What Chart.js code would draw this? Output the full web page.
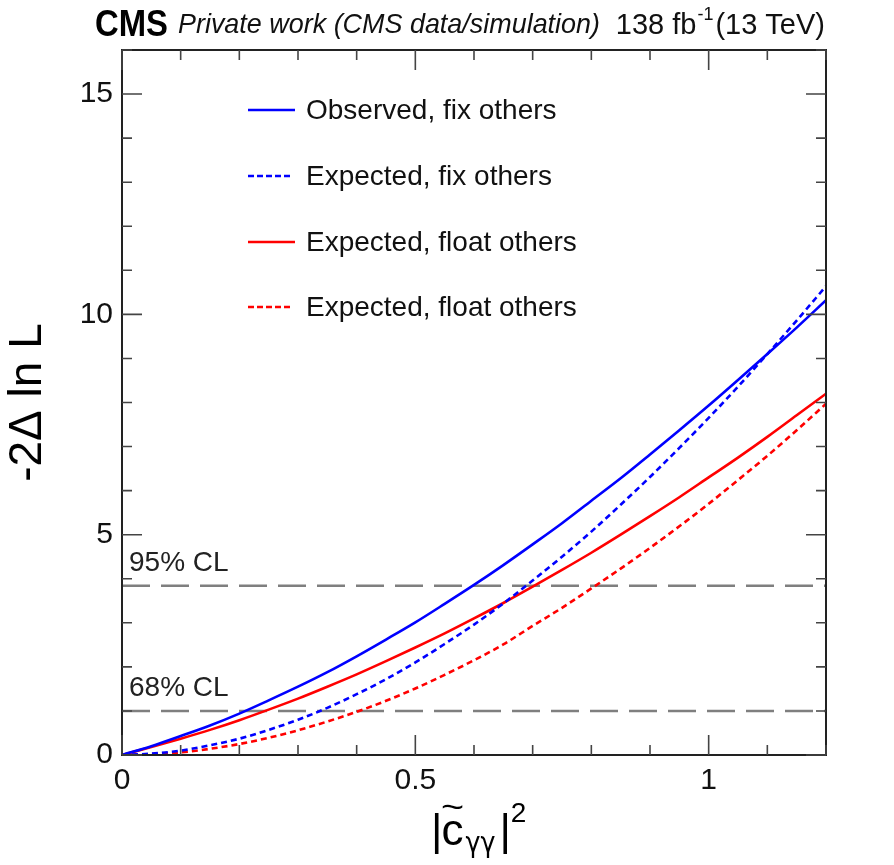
<!DOCTYPE html>
<html>
<head>
<meta charset="utf-8">
<script src="https://cdn.jsdelivr.net/npm/chart.js@4"></script>
<style>
  html, body { margin: 0; padding: 0; background: #fff; }
  #wrap { width: 894px; height: 865px; }
</style>
</head>
<body>
<div id="wrap"><canvas id="nllChart" width="894" height="865"></canvas></div>
<script>
// values
const xValues = [0, 0.05, 0.1, 0.15, 0.2, 0.25, 0.3, 0.35, 0.4, 0.45, 0.5, 0.55, 0.6,
    0.65, 0.7, 0.75, 0.8, 0.85, 0.9, 0.95, 1.0, 1.05, 1.1, 1.15, 1.2];
const observedFix = [0, 0.20, 0.43, 0.67, 0.94, 1.24, 1.55, 1.88, 2.24, 2.62, 3.01, 3.43, 3.86,
    4.31, 4.78, 5.26, 5.77, 6.28, 6.82, 7.37, 7.93, 8.51, 9.10, 9.70, 10.32];
const expectedFix = [0, 0.03, 0.10, 0.22, 0.37, 0.57, 0.80, 1.07, 1.38, 1.72, 2.10, 2.52, 2.96,
    3.44, 3.96, 4.50, 5.07, 5.68, 6.31, 6.97, 7.65, 8.36, 9.10, 9.86, 10.64];
const solidFloat = [0, 0.18, 0.37, 0.57, 0.79, 1.03, 1.28, 1.55, 1.83, 2.13, 2.44, 2.76, 3.10,
    3.45, 3.82, 4.20, 4.59, 5.00, 5.42, 5.85, 6.30, 6.75, 7.22, 7.71, 8.20];
const expectedFloat = [0, 0.02, 0.06, 0.14, 0.25, 0.39, 0.56, 0.76, 0.98, 1.23, 1.51, 1.82, 2.15,
    2.51, 2.93, 3.34, 3.78, 4.23, 4.70, 5.19, 5.70, 6.24, 6.79, 7.37, 7.97];
const seriesLabels = ["Observed, fix others", "Expected, fix others",
    "Expected, float others", "Expected, float others"];
const clLevels = [1, 3.84];
const clLabels = ["68% CL", "95% CL"];
const xMajorTicks = [0, 0.5, 1];
const yMajorTicks = [0, 5, 10, 15];

const X_MAX = 1.2, Y_MAX = 16;
const FONT = "'Liberation Sans', Arial, Helvetica, sans-serif";

function pts(ys){
    return xValues.map((x, i) => ({x: x, y: ys[i]}));
}
function isMajor(v, list){
    return list.some(m => Math.abs(m - v) < 1e-6);
}

const curveDatasets = [
    {label: seriesLabels[0], data: pts(observedFix), borderColor: "#0000ff", borderDash: []},
    {label: seriesLabels[1], data: pts(expectedFix), borderColor: "#0000ff", borderDash: [6, 4]},
    {label: seriesLabels[2], data: pts(solidFloat), borderColor: "#ff0000", borderDash: []},
    {label: seriesLabels[3], data: pts(expectedFloat), borderColor: "#ff0000", borderDash: [6, 4]}
].map(d => Object.assign(d, {borderWidth: 2.6, pointRadius: 0, showLine: true,
    cubicInterpolationMode: "monotone", fill: false}));

const clDatasets = clLevels.map((lvl, i) => ({
    label: clLabels[i],
    data: [{x: 0, y: lvl}, {x: X_MAX, y: lvl}],
    borderColor: "#7f7f7f", borderWidth: 2.4, borderDash: [28, 11],
    pointRadius: 0, showLine: true
}));

const framePlugin = {
    id: "rootFrame",
    afterDraw(chart){
        const ctx = chart.ctx;
        const a = chart.chartArea;
        const xs = chart.scales.x, ys = chart.scales.y;
        ctx.save();

        // frame
        ctx.strokeStyle = "#222";
        ctx.lineWidth = 2;
        ctx.strokeRect(a.left, a.top, a.right - a.left, a.bottom - a.top);

        // ticks on all four sides, pointing inwards
        ctx.strokeStyle = "#444";
        ctx.lineWidth = 1.6;
        ctx.beginPath();
        xs.ticks.forEach(t => {
            const px = xs.getPixelForValue(t.value);
            const len = isMajor(t.value, xMajorTicks) ? 20 : 10;
            ctx.moveTo(px, a.bottom); ctx.lineTo(px, a.bottom - len);
            ctx.moveTo(px, a.top); ctx.lineTo(px, a.top + len);
        });
        ys.ticks.forEach(t => {
            const py = ys.getPixelForValue(t.value);
            const len = isMajor(t.value, yMajorTicks) ? 20 : 10;
            ctx.moveTo(a.left, py); ctx.lineTo(a.left + len, py);
            ctx.moveTo(a.right, py); ctx.lineTo(a.right - len, py);
        });
        ctx.stroke();

        // CL labels
        ctx.fillStyle = "#222";
        ctx.font = "28px " + FONT;
        ctx.textAlign = "left";
        ctx.textBaseline = "alphabetic";
        clLevels.forEach((lvl, i) => {
            ctx.fillText(clLabels[i], a.left + 7, ys.getPixelForValue(lvl) - 15, 100);
        });

        // legend
        const rows = [110, 176, 242, 307];
        curveDatasets.forEach((d, i) => {
            ctx.strokeStyle = d.borderColor;
            ctx.lineWidth = 2.6;
            ctx.setLineDash(d.borderDash.length ? [6, 3] : []);
            ctx.beginPath();
            ctx.moveTo(248, rows[i]);
            ctx.lineTo(d.borderDash.length ? 291 : 295, rows[i]);
            ctx.stroke();
            ctx.setLineDash([]);
            ctx.fillStyle = "#111";
            ctx.font = "28px " + FONT;
            ctx.textBaseline = "middle";
            ctx.fillText(d.label, 306, rows[i] + 1);
        });

        // header
        ctx.textBaseline = "alphabetic";
        ctx.fillStyle = "#000";
        ctx.font = "bold 37px " + FONT;
        ctx.fillText("CMS", 95, 36, 73);
        ctx.font = "italic 28px " + FONT;
        ctx.fillStyle = "#111";
        ctx.fillText("Private work (CMS data/simulation)", 178, 33, 422);

        ctx.font = "29px " + FONT;
        const p1 = "138 fb", p3 = "(13 TeV)";
        const w1 = ctx.measureText(p1).width, w3 = ctx.measureText(p3).width;
        ctx.font = "18px " + FONT;
        const w2 = ctx.measureText("-1").width;
        let hx = 825 - (w1 + w2 + w3 + 3);
        ctx.font = "29px " + FONT;
        ctx.fillText(p1, hx, 34);
        ctx.font = "18px " + FONT;
        ctx.fillText("-1", hx + w1 + 1, 20);
        ctx.font = "29px " + FONT;
        ctx.fillText(p3, hx + w1 + w2 + 3, 34);

        // y title
        ctx.save();
        ctx.translate(41, (a.top + a.bottom) / 2);
        ctx.rotate(-Math.PI / 2);
        ctx.textAlign = "center";
        ctx.font = "46px " + FONT;
        ctx.fillStyle = "#000";
        ctx.fillText("-2\u0394 ln L", 0, 0);
        ctx.restore();

        // x title |c~_yy|^2
        ctx.fillStyle = "#000";
        ctx.textAlign = "left";
        let tx = 431;
        ctx.font = "44px " + FONT;
        ctx.fillText("|", tx, 845);
        tx += ctx.measureText("|").width - 1;
        const cw = ctx.measureText("c").width;
        ctx.fillText("c", tx, 845);
        ctx.save();
        ctx.font = "34px " + FONT;
        const tw = ctx.measureText("~").width;
        ctx.translate(tx + cw / 2, 818);
        ctx.scale(cw / tw * 1.05, 1);
        ctx.textAlign = "center";
        ctx.fillText("~", 0, 0);
        ctx.restore();
        tx += cw;
        ctx.font = "28px 'DejaVu Sans', " + FONT;
        ctx.fillText("\u03b3\u03b3", tx + 2, 852, 30);
        tx += 36;
        ctx.font = "44px " + FONT;
        ctx.fillText("|", tx, 845);
        tx += ctx.measureText("|").width;
        ctx.font = "28px " + FONT;
        ctx.fillText("2", tx, 822);

        ctx.restore();
    }
};

new Chart(document.getElementById("nllChart"), {
    type: "scatter",
    data: {datasets: curveDatasets.concat(clDatasets)},
    options: {
        responsive: false,
        animation: false,
        layout: {padding: {left: 0, right: 68, top: 50, bottom: 0}},
        plugins: {legend: {display: false}, tooltip: {enabled: false}},
        scales: {
            x: {
                type: "linear", min: 0, max: X_MAX,
                grid: {display: false, drawTicks: false},
                border: {display: false},
                ticks: {
                    stepSize: 0.1, padding: 8, color: "#111",
                    font: {size: 30, family: FONT},
                    maxRotation: 0, autoSkip: false,
                    callback: v => isMajor(v, xMajorTicks) ? String(Math.round(v * 10) / 10) : ""
                },
                afterFit: s => { s.height = 110; }
            },
            y: {
                type: "linear", min: 0, max: Y_MAX,
                grid: {display: false, drawTicks: false},
                border: {display: false},
                ticks: {
                    stepSize: 1, padding: 9, color: "#111",
                    font: {size: 30, family: FONT},
                    autoSkip: false,
                    callback: v => isMajor(v, yMajorTicks) ? String(v) : ""
                },
                afterFit: s => { s.width = 122; }
            }
        }
    },
    plugins: [framePlugin]
});
</script>
</body>
</html>
